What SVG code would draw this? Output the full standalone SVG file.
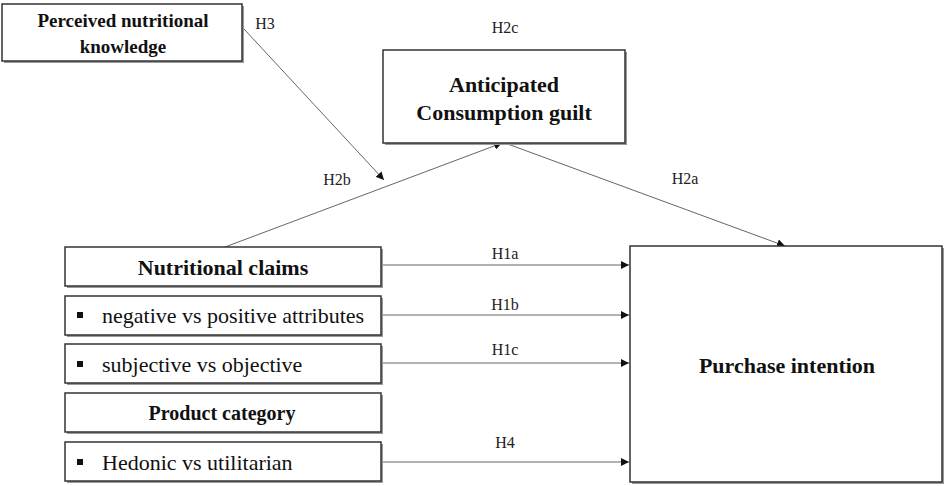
<svg xmlns="http://www.w3.org/2000/svg" width="945" height="486" viewBox="0 0 945 486">
<style>
.box{fill:#fff;stroke:#333;stroke-width:1.5}
.sh{fill:#9a9a9a}
.t{font-family:"Liberation Serif","Times New Roman",serif;fill:#111}
.b{font-weight:bold}
.lab{font-family:"Liberation Serif","Times New Roman",serif;font-size:16px;fill:#222;text-anchor:middle}
.c{stroke:#666;stroke-width:1;fill:none;marker-end:url(#ah)}
.bul{fill:#111}
</style>
<defs>
<marker id="ah" viewBox="0 0 10 10" refX="10" refY="5" markerWidth="8" markerHeight="8" markerUnits="userSpaceOnUse" orient="auto">
<path d="M0,0 L10,5 L0,10 z" fill="#111"/>
</marker>
</defs>
<rect width="945" height="486" fill="#fff"/>
<g id="connectors">
<line class="c" x1="244" y1="29" x2="384" y2="180"/>
<line class="c" x1="225" y1="247" x2="502" y2="143"/>
<line class="c" x1="505" y1="143" x2="785" y2="246"/>
<line class="c" x1="381" y1="265" x2="629" y2="265"/>
<line class="c" x1="381" y1="315" x2="629" y2="315"/>
<line class="c" x1="381" y1="363" x2="629" y2="363"/>
<line class="c" x1="381" y1="462" x2="629" y2="462"/>
<text class="lab" x="265" y="29">H3</text>
<text class="lab" x="505" y="33">H2c</text>
<text class="lab" x="337" y="185">H2b</text>
<text class="lab" x="685" y="184">H2a</text>
<text class="lab" x="505" y="259">H1a</text>
<text class="lab" x="505" y="310">H1b</text>
<text class="lab" x="505" y="355">H1c</text>
<text class="lab" x="505" y="448">H4</text>
</g>
<g id="knowledge">
<rect class="sh" x="4" y="6" width="240" height="57"/>
<rect class="box" x="2" y="4" width="240" height="57"/>
<text class="t b" x="123" y="27" font-size="19" text-anchor="middle">Perceived nutritional</text>
<text class="t b" x="123" y="53" font-size="19" text-anchor="middle">knowledge</text>
</g>
<g id="guilt">
<rect class="sh" x="385" y="52" width="242" height="93"/>
<rect class="box" x="383" y="50" width="242" height="93"/>
<text class="t b" x="504" y="92" font-size="22" text-anchor="middle">Anticipated</text>
<text class="t b" x="504" y="120" font-size="22" text-anchor="middle">Consumption guilt</text>
</g>
<g id="claims">
<rect class="sh" x="67" y="249" width="316" height="39"/>
<rect class="box" x="65" y="247" width="316" height="39"/>
<text class="t b" x="223" y="275" font-size="22" text-anchor="middle">Nutritional claims</text>
</g>
<g id="attributes">
<rect class="sh" x="67" y="298" width="316" height="39"/>
<rect class="box" x="65" y="296" width="316" height="39"/>
<rect class="bul" x="77" y="312" width="6" height="6"/>
<text class="t" x="102" y="323" font-size="22">negative vs positive attributes</text>
</g>
<g id="subjective">
<rect class="sh" x="67" y="346" width="316" height="39"/>
<rect class="box" x="65" y="344" width="316" height="39"/>
<rect class="bul" x="77" y="361" width="6" height="6"/>
<text class="t" x="102" y="372" font-size="22">subjective vs objective</text>
</g>
<g id="category">
<rect class="sh" x="67" y="395" width="316" height="39"/>
<rect class="box" x="65" y="393" width="316" height="39"/>
<text class="t b" x="222" y="420" font-size="20" text-anchor="middle">Product category</text>
</g>
<g id="hedonic">
<rect class="sh" x="67" y="444" width="316" height="39"/>
<rect class="box" x="65" y="442" width="316" height="39"/>
<rect class="bul" x="77" y="459" width="6" height="6"/>
<text class="t" x="102" y="470" font-size="22">Hedonic vs utilitarian</text>
</g>
<g id="purchase">
<rect class="sh" x="632" y="248" width="312" height="236"/>
<rect class="box" x="630" y="246" width="312" height="236"/>
<text class="t b" x="787" y="373" font-size="22" text-anchor="middle">Purchase intention</text>
</g>
</svg>
